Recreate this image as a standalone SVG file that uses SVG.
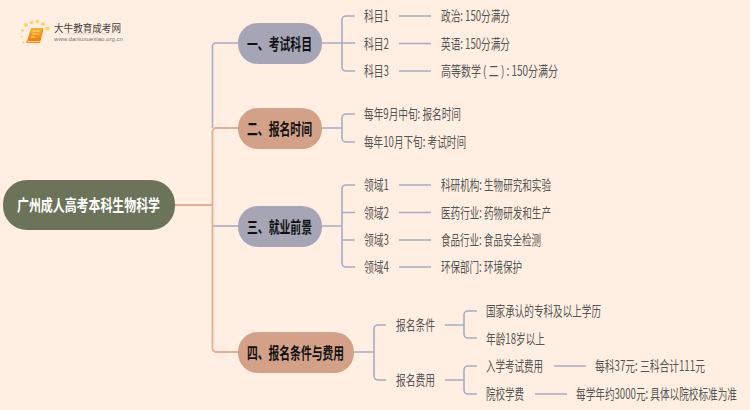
<svg xmlns="http://www.w3.org/2000/svg" width="750" height="410" viewBox="0 0 750 410">
<defs>
<style>
text{font-family:"Noto Sans CJK SC","Liberation Sans",sans-serif;dominant-baseline:central}
.l{font-size:14px;fill:#555}
.n{font-size:16px;font-weight:700;fill:#111;text-anchor:start}
.c{fill:none;stroke:#a9aac4;stroke-width:1.6}
.s{fill:none;stroke:#e2ae94;stroke-width:1.8}
</style>
<linearGradient id="b" x1="0" y1="0" x2="0" y2="1"><stop offset="0" stop-color="#fbb324"/><stop offset="1" stop-color="#ef7d0c"/></linearGradient>
<linearGradient id="u" x1="0" y1="0" x2="1" y2="0"><stop offset="0" stop-color="#ccc" stop-opacity="0"/><stop offset=".4" stop-color="#ccc"/><stop offset="1" stop-color="#ccc" stop-opacity="0"/></linearGradient>
</defs>
<rect width="750" height="410" fill="#ffefe2"/>
<g id="logo">
<g fill="#fcd25e"><circle cx="26" cy="25" r="2"/><circle cx="31.500" cy="22.500" r="1.800"/><circle cx="37.500" cy="21.500" r="1.800"/><circle cx="43" cy="24" r="1.900"/><circle cx="47.500" cy="28.500" r="2.100"/><circle cx="22.500" cy="30.500" r="1.300"/><circle cx="21.500" cy="36.500" r="1"/><circle cx="23.500" cy="42.500" r="1"/></g>
<path d="M31 28h12l-3.500 13H27z" fill="url(#b)"/><path d="M27 41l-.5 1.300h13l3.500-13" fill="none" stroke="#e8760a" stroke-width="1"/><path d="M32.500 31h7M32 34h7M31 37h4" stroke="#ffd98a" stroke-width="1"/>
<text x="54" y="27" font-size="10" fill="#444" textLength="67" lengthAdjust="spacingAndGlyphs">大牛教育成考网</text>
<rect x="48" y="33.500" width="85" height=".8" fill="url(#u)"/>
<text x="54" y="38.500" font-size="6" fill="#777" textLength="69" lengthAdjust="spacingAndGlyphs" style="font-family:'Liberation Sans',sans-serif">www.daniuxuexiao.org.cn</text>
</g>
<g id="connectors">
<path class="c" d="M238 43H216a3.500 3.500 0 0 0-3.500 3.500V128"/>
<path class="c" d="M213 226H238"/>
<path class="s" d="M175 205H212.500M238 128H216a3.500 3.500 0 0 0-3.500 3.500V348.500a3.500 3.500 0 0 0 3.500 3.500H238"/>
<path class="c" d="M322 43H355M346 16a4 4 0 0 0-4 4V67a4 4 0 0 0 4 4h9M346 16h9"/>
<path class="c" d="M399 16h32M399 43.500h32M399 71h32"/>
<path class="c" d="M322 128H342M355 114h-9a4 4 0 0 0-4 4V138a4 4 0 0 0 4 4h9"/>
<path class="c" d="M322 226H342M355 185h-9a4 4 0 0 0-4 4V263a4 4 0 0 0 4 4h9M342 212.500h13M342 240h13"/>
<path class="c" d="M399 185h32M399 212.500h32M399 240h32M399 267h32"/>
<path class="c" d="M354 352H374M386 325h-8a4 4 0 0 0-4 4V376a4 4 0 0 0 4 4h8"/>
<path class="c" d="M445 325H464M477 311h-9a4 4 0 0 0-4 4V334a4 4 0 0 0 4 4h9"/>
<path class="c" d="M445 380H464M477 366h-9a4 4 0 0 0-4 4V390a4 4 0 0 0 4 4h9"/>
<path class="c" d="M554 366h32M535 394h32"/>
</g>
<g id="root"><rect x="3" y="180" width="172" height="50" rx="24" fill="#6b7359"/><text x="17" y="204" class="n" style="fill:#fff;font-size:16px" textLength="143" lengthAdjust="spacingAndGlyphs">广州成人高考本科生物科学</text></g>
<g id="n1"><rect x="238" y="23" width="84" height="41" rx="20" fill="#a5a5b6"/><text x="247" y="43" class="n" textLength="65" lengthAdjust="spacingAndGlyphs">一、考试科目</text></g>
<g id="n2"><rect x="238" y="108" width="84" height="41" rx="20" fill="#d3a188"/><text x="247" y="128" class="n" textLength="65" lengthAdjust="spacingAndGlyphs">二、报名时间</text></g>
<g id="n3"><rect x="238" y="206" width="84" height="41" rx="20" fill="#a5a5b6"/><text x="247" y="226" class="n" textLength="65" lengthAdjust="spacingAndGlyphs">三、就业前景</text></g>
<g id="n4"><rect x="238" y="332" width="116" height="41" rx="20" fill="#d3a188"/><text x="247" y="352" class="n" textLength="97" lengthAdjust="spacingAndGlyphs">四、报名条件与费用</text></g>
<g id="leaves">
<text class="l" x="364" y="15" textLength="25" lengthAdjust="spacingAndGlyphs">科目1</text>
<text class="l" x="364" y="42.500" textLength="25" lengthAdjust="spacingAndGlyphs">科目2</text>
<text class="l" x="364" y="70" textLength="25" lengthAdjust="spacingAndGlyphs">科目3</text>
<text class="l" x="441" y="15" textLength="69" lengthAdjust="spacingAndGlyphs">政治: 150分满分</text>
<text class="l" x="441" y="42.500" textLength="69" lengthAdjust="spacingAndGlyphs">英语: 150分满分</text>
<text class="l" x="441" y="70" textLength="117" lengthAdjust="spacingAndGlyphs">高等数学 ( 二 ) : 150分满分</text>
<text class="l" x="364" y="113" textLength="97" lengthAdjust="spacingAndGlyphs">每年9月中旬: 报名时间</text>
<text class="l" x="364" y="141" textLength="102" lengthAdjust="spacingAndGlyphs">每年10月下旬: 考试时间</text>
<text class="l" x="364" y="184" textLength="25" lengthAdjust="spacingAndGlyphs">领域1</text>
<text class="l" x="364" y="211.500" textLength="25" lengthAdjust="spacingAndGlyphs">领域2</text>
<text class="l" x="364" y="239" textLength="25" lengthAdjust="spacingAndGlyphs">领域3</text>
<text class="l" x="364" y="266" textLength="25" lengthAdjust="spacingAndGlyphs">领域4</text>
<text class="l" x="441" y="184" textLength="110" lengthAdjust="spacingAndGlyphs">科研机构: 生物研究和实验</text>
<text class="l" x="441" y="211.500" textLength="110" lengthAdjust="spacingAndGlyphs">医药行业: 药物研发和生产</text>
<text class="l" x="441" y="239" textLength="100" lengthAdjust="spacingAndGlyphs">食品行业: 食品安全检测</text>
<text class="l" x="441" y="266" textLength="81" lengthAdjust="spacingAndGlyphs">环保部门: 环境保护</text>
<text class="l" x="396" y="324" textLength="39" lengthAdjust="spacingAndGlyphs">报名条件</text>
<text class="l" x="396" y="379" textLength="39" lengthAdjust="spacingAndGlyphs">报名费用</text>
<text class="l" x="486" y="310" textLength="115" lengthAdjust="spacingAndGlyphs">国家承认的专科及以上学历</text>
<text class="l" x="486" y="337.500" textLength="59" lengthAdjust="spacingAndGlyphs">年龄18岁以上</text>
<text class="l" x="486" y="365" textLength="57" lengthAdjust="spacingAndGlyphs">入学考试费用</text>
<text class="l" x="486" y="393" textLength="38" lengthAdjust="spacingAndGlyphs">院校学费</text>
<text class="l" transform="translate(595 365) scale(.7 1)" textLength="157" lengthAdjust="spacingAndGlyphs">每科37元: 三科合计111元</text>
<text class="l" transform="translate(576 393) scale(.7 1)" textLength="230" lengthAdjust="spacingAndGlyphs">每学年约3000元: 具体以院校标准为准</text>
</g>
</svg>
